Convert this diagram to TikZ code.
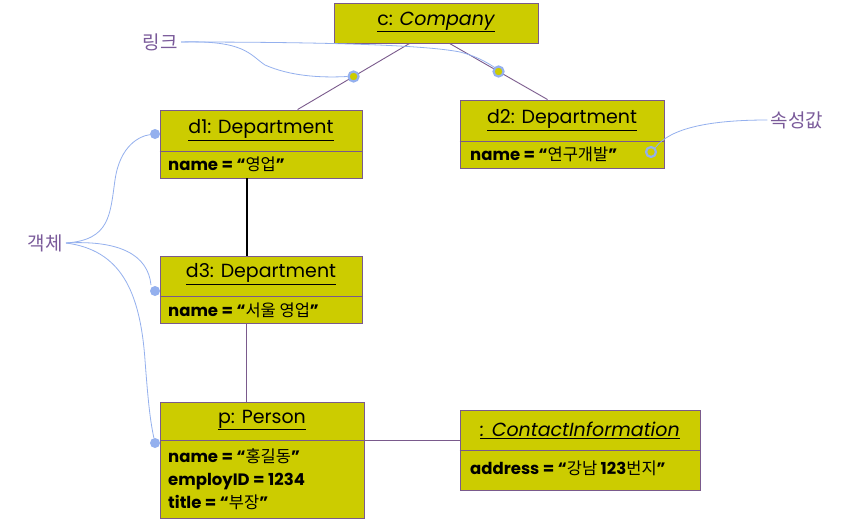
\documentclass[tikz,border=0pt]{standalone}
\usepackage{fontspec}
\setmainfont{Poppins}
\newfontfamily\kr{Noto Sans CJK KR}
\newcommand{\krt}[1]{{\kr\mdseries #1}}
\usetikzlibrary{calc}
\definecolor{boxfill}{HTML}{CCCC00}
\definecolor{boxline}{HTML}{7A5A8C}
\definecolor{linkline}{HTML}{7A5A8C}
\definecolor{note}{HTML}{94B0EE}
\definecolor{labelc}{HTML}{7A5A9A}
\tikzset{
  objbox/.style={draw=boxline, fill=boxfill, line width=0.9pt, inner sep=0pt},
  ttl/.style={font=\fontsize{19}{21}\selectfont, inner sep=0pt},
  attr/.style={font=\bfseries\fontsize{16.5}{18}\selectfont, inner sep=0pt, anchor=base west},
  divider/.style={draw=boxline, line width=0.9pt},
  assoc/.style={draw=linkline, line width=0.9pt},
  strong/.style={draw=black, line width=2pt},
  notecurve/.style={draw=note, line width=0.8pt},
  notelabel/.style={text=labelc, font=\kr\fontsize{19}{21}\selectfont},
  dot/.style={circle, fill=note, inner sep=0pt, minimum size=10pt},
  ring/.style={circle, draw=note, fill=boxfill, line width=2.2pt, inner sep=0pt, minimum size=10pt},
}
\begin{document}
\begin{tikzpicture}[x=1pt,y=-1pt]
\useasboundingbox (0,0) rectangle (852,522);
\fill[white] (0,0) rectangle (852,522);

% boxes
\node[objbox, minimum width=204pt, minimum height=40pt] (c) at (436,23) {};
\node[ttl] (ct) at (436,22) {\underline{c: \itshape Company}};

\node[objbox, minimum width=202pt, minimum height=68pt] (d1) at (261,144) {};
\node[ttl] (d1t) at (261,130) {\underline{d1: Department}};
\draw[divider] ($(d1.west)+(0,7)$) coordinate (d1l) -- ($(d1.east)+(0,7)$) coordinate (d1r);
\node[attr] (d1a) at (168,170) {name = “\krt{영업}”};

\node[objbox, minimum width=204pt, minimum height=68pt] (d2) at (562,134) {};
\node[ttl] (d2t) at (562,120) {\underline{d2: Department}};
\draw[divider] ($(d2.west)+(0,7)$) coordinate (d2l) -- ($(d2.east)+(0,7)$) coordinate (d2r);
\node[attr] (d2a) at (470,160) {name = “\krt{연구개발}”};

\node[objbox, minimum width=202pt, minimum height=67pt] (d3) at (261,289.5) {};
\node[ttl] (d3t) at (261,274) {\underline{d3: Department}};
\draw[divider] ($(d3.west)+(0,6.5)$) coordinate (d3l) -- ($(d3.east)+(0,6.5)$) coordinate (d3r);
\node[attr] (d3a) at (168,316) {name = “\krt{서울 영업}”};

\node[objbox, minimum width=204pt, minimum height=116pt] (p) at (262,460) {};
\node[ttl] (pt) at (262,420) {\underline{p: Person}};
\draw[divider] ($(p.west)+(0,-20)$) coordinate (pl) -- ($(p.east)+(0,-20)$) coordinate (pr);
\node[attr] (pa1) at (168,462) {name = “\krt{홍길동}”};
\node[attr] (pa2) at (168,485) {employID = 1234};
\node[attr] (pa3) at (168,508) {title = “\krt{부장}”};

\node[objbox, minimum width=240pt, minimum height=80pt] (ci) at (580,450) {};
\node[ttl] (cit) at (580,430) {\underline{\itshape : ContactInformation}};
\draw[divider] (ci.west) coordinate (cil) -- (ci.east) coordinate (cir);
\node[attr] (cia) at (470,474) {address = “\krt{강남} 123\krt{번지}”};

% links
\coordinate (c1) at ($(c.south west)+(76,0)$);
\coordinate (c2) at ($(c.south west)+(116,0)$);
\coordinate (d1top) at ($(d1.north west)+(138,0)$);
\coordinate (d2top) at ($(d2.north west)+(88,0)$);
\coordinate (d1bot) at ($(d1.south west)+(87,0)$);
\coordinate (d3top) at ($(d3.north west)+(87,0)$);
\coordinate (d3bot) at ($(d3.south west)+(87,0)$);
\coordinate (ptop) at ($(p.north west)+(87,0)$);
\draw[assoc] (c1) -- (d1top);
\draw[assoc] (c2) -- (d2top);
\draw[strong] (d1bot) -- (d3top);
\draw[assoc] (d3bot) -- (ptop);
\draw[assoc] (pr) -- (pr -| ci.west);

% notes
\node[notelabel] (lk) at (160,42) {링크};
\node[notelabel] (ob) at (45,243) {객체};
\node[notelabel] (av) at (797,120) {속성값};

\node[ring] (m1) at ($(c1)!0.5!(d1top)$) {};
\node[ring] (m2) at ($(c2)!0.5!(d2top)$) {};
\draw[notecurve] (lk.east) .. controls (245,40) and (250,55) .. (265,65) .. controls (290,76) and (320,78) .. (m1.west);
\draw[notecurve] (lk.east) .. controls (300,42) and (420,44) .. (460,52) .. controls (480,57) and (492,66) .. (m2.north west);

\node[ring] (m3) at (651,152) {};
\draw[notecurve] (av.west) .. controls (710,120) and (670,128) .. (m3.north east);

\node[dot] (o1) at (155,134) {};
\node[dot] (o2) at (155,291) {};
\node[dot] (o3) at (155,443) {};
\draw[notecurve] (ob.east) .. controls (110,240) and (110,215) .. (115,180) .. controls (120,145) and (140,136) .. (o1);
\draw[notecurve] (ob.east) .. controls (120,240) and (148,255) .. (151,285);
\draw[notecurve] (ob.east) .. controls (120,250) and (140,290) .. (145,360) .. controls (148,400) and (150,420) .. (o3);
\end{tikzpicture}
\end{document}
